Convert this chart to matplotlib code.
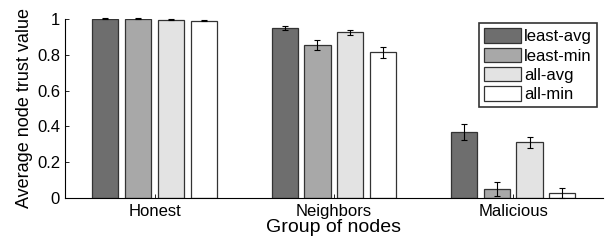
import numpy as np
import matplotlib.pyplot as plt

plt.rcParams['font.family'] = ['Liberation Sans', 'DejaVu Sans']

groups = ['Honest', 'Neighbors', 'Malicious']
series = ['least-avg', 'least-min', 'all-avg', 'all-min']
values = [
    [1.0, 0.951, 0.369],
    [1.0, 0.855, 0.052],
    [0.996, 0.925, 0.311],
    [0.99, 0.813, 0.030],
]
errors = [
    [0.003, 0.010, 0.044],
    [0.003, 0.028, 0.038],
    [0.003, 0.012, 0.032],
    [0.003, 0.030, 0.028],
]
colors = ['#6e6e6e', '#a8a8a8', '#e3e3e3', '#ffffff']

fig = plt.figure(figsize=(6.07, 2.43), dpi=100)
ax = fig.add_axes([0.107, 0.185, 0.886, 0.737])

x = np.arange(1, len(groups) + 1)
pitch = 0.183
width = 0.146
for i, name in enumerate(series):
    pos = x + (i - 1.5) * pitch
    ax.bar(pos, values[i], width, color=colors[i], edgecolor='#333333',
           linewidth=0.9, label=name, zorder=2)
    ax.errorbar(pos, values[i], yerr=errors[i], fmt='none', ecolor='black',
                elinewidth=0.8, capsize=2.5, capthick=0.8, zorder=3,
                clip_on=False)

ax.set_xlim(0.5, 3.5)
ax.set_ylim(0, 1)
ax.set_xticks(x)
ax.set_xticklabels(groups)
ax.set_yticks([0, 0.2, 0.4, 0.6, 0.8, 1])
ax.set_yticklabels(['0', '0.2', '0.4', '0.6', '0.8', '1'])
ax.tick_params(direction='in', length=3, labelsize=12, width=0.6)
ax.tick_params(axis='x', pad=4)
ax.spines['top'].set_visible(False)
ax.spines['right'].set_visible(False)
ax.set_ylabel('Average node trust value', fontsize=13, labelpad=3)
ax.set_xlabel('Group of nodes', fontsize=14, labelpad=0)

leg = ax.legend(loc='upper right', bbox_to_anchor=(0.989, 0.975), fontsize=12,
                frameon=True, fancybox=False, edgecolor='black',
                handlelength=2.2, handleheight=0.95, handletextpad=0.2,
                labelspacing=0.2, borderpad=0.3, borderaxespad=0.0)
leg.get_frame().set_linewidth(1.2)

plt.savefig('out.png')
